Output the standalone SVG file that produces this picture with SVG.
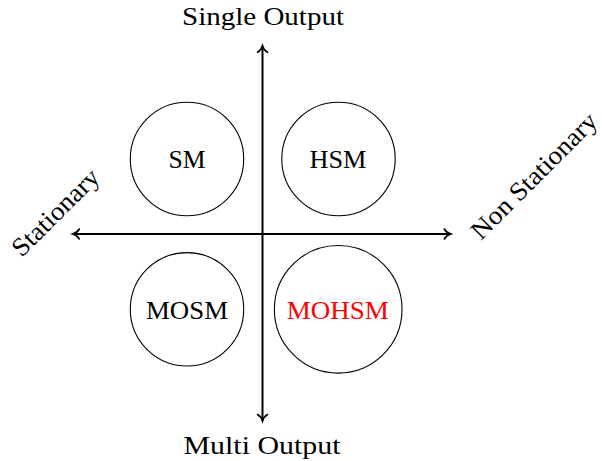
<svg xmlns="http://www.w3.org/2000/svg" width="602" height="461" viewBox="0 0 602 461">
<style>
text{font-family:"Liberation Serif","Times New Roman",serif;font-size:26px;fill:#000;text-anchor:middle}
.node circle{fill:none;stroke:#000;stroke-width:1.1}
.axis{stroke:#000;stroke-width:2;fill:none}
.red{fill:#ff0000}
</style>
<defs>
<marker id="arr" markerUnits="userSpaceOnUse" markerWidth="14" markerHeight="14" viewBox="-10 -7 14 14" refX="0" refY="0" orient="auto" overflow="visible">
<path d="M -6.5 -5 C -5 -2.4 -2.2 -0.6 0 0 C -2.2 0.6 -5 2.4 -6.5 5" fill="none" stroke="#000" stroke-width="1.6" stroke-linecap="round"/>
</marker>
</defs>
<rect width="602" height="461" fill="#fff"/>
<g id="connectors">
<line class="axis" x1="262.5" y1="234" x2="262.5" y2="45.8" marker-end="url(#arr)"/>
<line class="axis" x1="262.5" y1="234" x2="262.5" y2="421" marker-end="url(#arr)"/>
<line class="axis" x1="262.5" y1="234" x2="450.8" y2="234" marker-end="url(#arr)"/>
<line class="axis" x1="262.5" y1="234" x2="72.8" y2="234" marker-end="url(#arr)"/>
</g>
<g id="label-single"><text x="263" y="25" textLength="162" lengthAdjust="spacingAndGlyphs">Single Output</text></g>
<g id="label-multi"><text x="262" y="454" textLength="157" lengthAdjust="spacingAndGlyphs">Multi Output</text></g>
<g id="label-stationary"><text transform="translate(56.5,213.5) rotate(-45)" y="7" textLength="112" lengthAdjust="spacingAndGlyphs">Stationary</text></g>
<g id="label-nonstationary"><text transform="translate(535,177) rotate(-45)" y="7" textLength="167" lengthAdjust="spacingAndGlyphs">Non Stationary</text></g>
<g id="SM" class="node"><circle cx="187" cy="159" r="56.7"/><text x="187" y="168" textLength="37" lengthAdjust="spacingAndGlyphs">SM</text></g>
<g id="HSM" class="node"><circle cx="338.5" cy="159" r="56.7"/><text x="338" y="168" textLength="57" lengthAdjust="spacingAndGlyphs">HSM</text></g>
<g id="MOSM" class="node"><circle cx="187" cy="309.3" r="56.7"/><text x="187" y="319" textLength="82" lengthAdjust="spacingAndGlyphs">MOSM</text></g>
<g id="MOHSM" class="node"><circle cx="338.2" cy="309.3" r="63.8"/><text class="red" x="337.7" y="319" textLength="102" lengthAdjust="spacingAndGlyphs">MOHSM</text></g>
</svg>
